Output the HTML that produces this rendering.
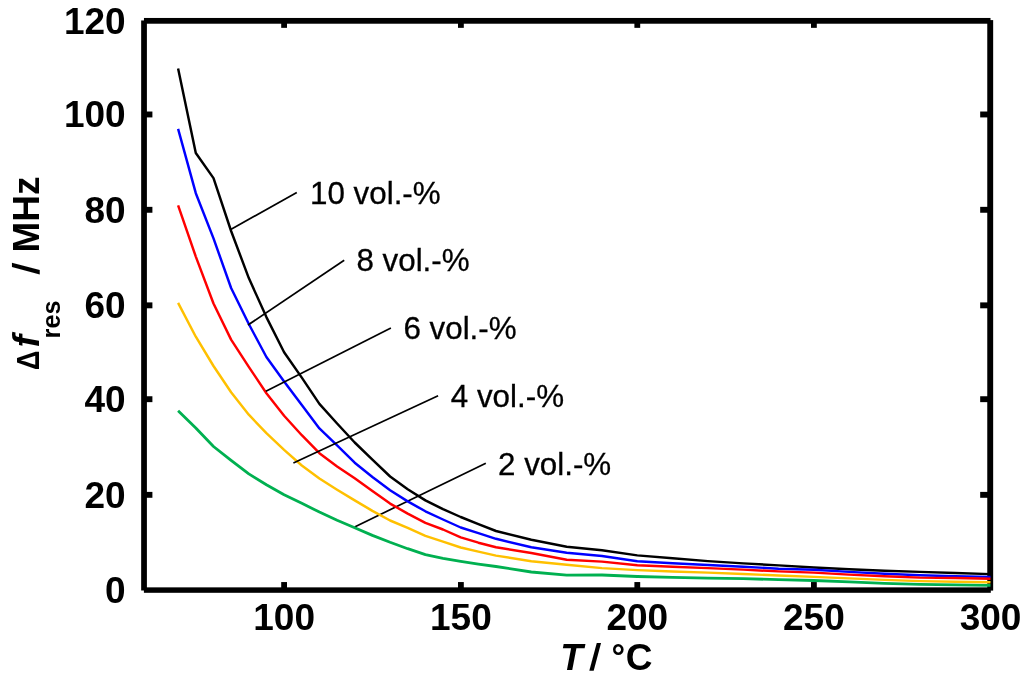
<!DOCTYPE html>
<html><head><meta charset="utf-8"><title>chart</title>
<style>html,body{margin:0;padding:0;background:#fff;overflow:hidden}svg{display:block}text{font-family:"Liberation Sans",sans-serif;fill:#000}</style>
</head><body>
<svg width="1024" height="678" viewBox="0 0 1024 678" style="will-change:transform">
<rect x="0" y="0" width="1024" height="678" fill="#ffffff"/>
<g id="axes">
<rect x="141.16" y="20.47" width="5.74" height="570.03" fill="#000"/>
<rect x="143.96" y="17.96" width="846.54" height="5.76" fill="#000"/>
<rect x="987.26" y="20.10" width="5.90" height="570.50" fill="#000"/>
<rect x="143.90" y="587.36" width="846.90" height="5.44" fill="#000"/>
<rect x="281.20" y="582.05" width="5.80" height="7.95" fill="#000"/>
<rect x="281.20" y="20.84" width="5.80" height="7.01" fill="#000"/>
<rect x="458.00" y="582.05" width="5.80" height="7.95" fill="#000"/>
<rect x="458.00" y="20.84" width="5.80" height="7.01" fill="#000"/>
<rect x="634.40" y="582.05" width="5.80" height="7.95" fill="#000"/>
<rect x="634.40" y="20.84" width="5.80" height="7.01" fill="#000"/>
<rect x="811.00" y="582.05" width="5.80" height="7.95" fill="#000"/>
<rect x="811.00" y="20.84" width="5.80" height="7.01" fill="#000"/>
<rect x="144.00" y="111.52" width="8.40" height="5.90" fill="#000"/>
<rect x="980.18" y="111.52" width="10.02" height="5.90" fill="#000"/>
<rect x="144.00" y="206.85" width="8.40" height="5.90" fill="#000"/>
<rect x="980.18" y="206.85" width="10.02" height="5.90" fill="#000"/>
<rect x="144.00" y="302.40" width="8.40" height="5.90" fill="#000"/>
<rect x="980.18" y="302.40" width="10.02" height="5.90" fill="#000"/>
<rect x="144.00" y="396.25" width="8.40" height="5.90" fill="#000"/>
<rect x="980.18" y="396.25" width="10.02" height="5.90" fill="#000"/>
<rect x="144.00" y="491.89" width="8.40" height="5.90" fill="#000"/>
<rect x="980.18" y="491.89" width="10.02" height="5.90" fill="#000"/>
</g>
<g id="leaders-under" stroke="#000" stroke-width="1.7" fill="none">
<line x1="354.6" y1="527" x2="485.8" y2="463.15"/>
</g>
<g id="curves" fill="none" stroke-width="2.45" stroke-linejoin="round" stroke-linecap="butt">
<polyline stroke="#00b050" stroke-width="2.8" points="178.1,410.8 195.8,428.0 213.5,446.5 231.1,460.4 248.8,473.9 266.4,484.8 284.1,494.8 301.8,503.3 319.4,512.1 337.1,520.3 354.7,527.8 372.4,535.4 390.1,542.3 407.7,548.7 425.4,554.6 443.0,558.3 460.7,561.4 478.4,564.1 496.0,566.5 531.3,572.0 566.7,575.2 602.0,575.0 637.3,576.5 672.6,577.4 707.9,578.1 743.3,578.7 778.6,579.6 813.9,580.5 849.2,581.9 884.5,583.4 919.9,584.4 955.2,584.8 990.5,585.4"/>
<polyline stroke="#ffc000" stroke-width="2.45" points="178.1,302.9 195.8,336.7 213.5,366.0 231.1,392.2 248.8,414.7 266.4,433.2 284.1,449.8 301.8,465.5 319.4,478.5 337.1,489.7 354.7,500.4 372.4,510.9 390.1,520.5 407.7,527.8 425.4,535.8 443.0,541.7 460.7,547.5 478.4,551.6 496.0,555.6 531.3,561.3 566.7,564.8 602.0,568.1 637.3,570.1 672.6,571.5 707.9,572.6 743.3,574.0 778.6,575.5 813.9,576.9 849.2,578.4 884.5,579.9 919.9,581.1 955.2,581.7 990.5,582.3"/>
<polyline stroke="#000000" stroke-width="2.45" points="178.1,68.5 195.8,153.0 213.5,178.1 231.1,231.0 248.8,278.1 266.4,317.1 284.1,352.3 301.8,377.6 319.4,403.9 337.1,423.5 354.7,442.5 372.4,459.6 390.1,476.5 407.7,489.2 425.4,500.4 443.0,509.2 460.7,517.0 478.4,524.2 496.0,531.0 531.3,539.8 566.7,546.8 602.0,550.3 637.3,555.4 672.6,558.3 707.9,561.1 743.3,563.4 778.6,565.4 813.9,567.5 849.2,569.2 884.5,570.8 919.9,571.9 955.2,573.0 990.5,574.1"/>
<polyline stroke="#0000ff" stroke-width="2.45" points="178.1,128.9 195.8,193.2 213.5,238.4 231.1,288.0 248.8,324.0 266.4,357.0 284.1,381.5 301.8,404.9 319.4,428.4 337.1,445.4 354.7,462.7 372.4,477.0 390.1,490.3 407.7,501.4 425.4,511.3 443.0,519.5 460.7,527.5 478.4,533.2 496.0,538.8 531.3,547.3 566.7,552.8 602.0,556.0 637.3,561.3 672.6,563.3 707.9,565.0 743.3,566.7 778.6,568.7 813.9,569.8 849.2,571.9 884.5,573.7 919.9,575.2 955.2,576.2 990.5,576.9"/>
<polyline stroke="#ff0000" stroke-width="2.45" points="178.1,205.3 195.8,256.6 213.5,303.5 231.1,339.6 248.8,366.9 266.4,393.2 284.1,415.7 301.8,435.2 319.4,453.2 337.1,466.4 354.7,478.3 372.4,491.1 390.1,503.6 407.7,513.6 425.4,522.9 443.0,529.5 460.7,537.4 478.4,542.7 496.0,547.2 531.3,553.0 566.7,559.7 602.0,561.6 637.3,565.3 672.6,566.8 707.9,568.1 743.3,569.6 778.6,571.4 813.9,572.6 849.2,574.6 884.5,576.3 919.9,577.6 955.2,578.0 990.5,578.8"/>
</g>
<g id="leaders-over" stroke="#000" stroke-width="1.7" fill="none">
<line x1="230.7" y1="229.4" x2="296.8" y2="192.6"/>
<line x1="248.0" y1="325.0" x2="344.2" y2="260.2"/>
<line x1="265.9" y1="391.25" x2="390.9" y2="327.9"/>
<line x1="293.4" y1="463.1" x2="438.1" y2="395.7"/>
</g>
<g id="labels" font-size="31.35" stroke="#000" stroke-width="0.3">
<text x="310.00" y="203.50">10 vol.-%</text>
<text x="356.40" y="270.90">8 vol.-%</text>
<text x="403.40" y="338.50">6 vol.-%</text>
<text x="450.80" y="406.60">4 vol.-%</text>
<text x="498.00" y="474.70">2 vol.-%</text>
</g>
<g id="ticklabels">
<text transform="translate(125.70,33.64) scale(1,1.01)" font-size="37.0" font-weight="bold" font-style="normal" text-anchor="end">120</text>
<text transform="translate(125.70,127.27) scale(1,1.01)" font-size="37.0" font-weight="bold" font-style="normal" text-anchor="end">100</text>
<text transform="translate(125.70,222.60) scale(1,1.01)" font-size="37.0" font-weight="bold" font-style="normal" text-anchor="end">80</text>
<text transform="translate(125.70,318.15) scale(1,1.01)" font-size="37.0" font-weight="bold" font-style="normal" text-anchor="end">60</text>
<text transform="translate(125.70,412.00) scale(1,1.01)" font-size="37.0" font-weight="bold" font-style="normal" text-anchor="end">40</text>
<text transform="translate(125.70,507.64) scale(1,1.01)" font-size="37.0" font-weight="bold" font-style="normal" text-anchor="end">20</text>
<text transform="translate(125.70,602.90) scale(1,1.01)" font-size="37.0" font-weight="bold" font-style="normal" text-anchor="end">0</text>
<text transform="translate(284.10,630.35) scale(1,1.01)" font-size="37.0" font-weight="bold" font-style="normal" text-anchor="middle">100</text>
<text transform="translate(460.90,630.35) scale(1,1.01)" font-size="37.0" font-weight="bold" font-style="normal" text-anchor="middle">150</text>
<text transform="translate(637.30,630.35) scale(1,1.01)" font-size="37.0" font-weight="bold" font-style="normal" text-anchor="middle">200</text>
<text transform="translate(813.90,630.35) scale(1,1.01)" font-size="37.0" font-weight="bold" font-style="normal" text-anchor="middle">250</text>
<text transform="translate(990.50,630.35) scale(1,1.01)" font-size="37.0" font-weight="bold" font-style="normal" text-anchor="middle">300</text>
</g>
<g id="xlabel">
<text transform="translate(560.20,670.40) scale(1,1.01)" font-size="37.0" font-weight="bold" font-style="italic" text-anchor="start">T</text>
<text transform="translate(594.20,670.40) skewX(-4.5) scale(1,1.01)" font-size="37.0" font-weight="bold" font-style="normal" text-anchor="middle">/</text>
<text transform="translate(618.25,668.70) scale(1,1.01)" font-size="34" font-weight="bold" font-style="normal" text-anchor="middle">°</text>
<text transform="translate(625.80,670.40) scale(1,1.01)" font-size="37.0" font-weight="bold" font-style="normal" text-anchor="start">C</text>
</g>
<g id="ylabel">
<text transform="translate(38.90,360.20) rotate(-90) scale(0.89,1.055)" font-size="30.4" font-weight="bold" font-style="normal" text-anchor="middle">Δ</text>
<text transform="translate(38.90,347.20) rotate(-90) scale(1,1.01)" font-size="37.0" font-weight="bold" font-style="italic" text-anchor="start">f</text>
<text transform="translate(60.20,338.40) rotate(-90) scale(1,1.01)" font-size="25.2" font-weight="bold" font-style="normal" text-anchor="start">res</text>
<text transform="translate(38.90,269.60) rotate(-90) skewX(-4.5) scale(1,1.01)" font-size="37.0" font-weight="bold" font-style="normal" text-anchor="middle">/</text>
<text transform="translate(38.90,252.50) rotate(-90) scale(1,1.01)" font-size="37.0" font-weight="bold" font-style="normal" text-anchor="start">MHz</text>
</g>
</svg>
</body></html>
